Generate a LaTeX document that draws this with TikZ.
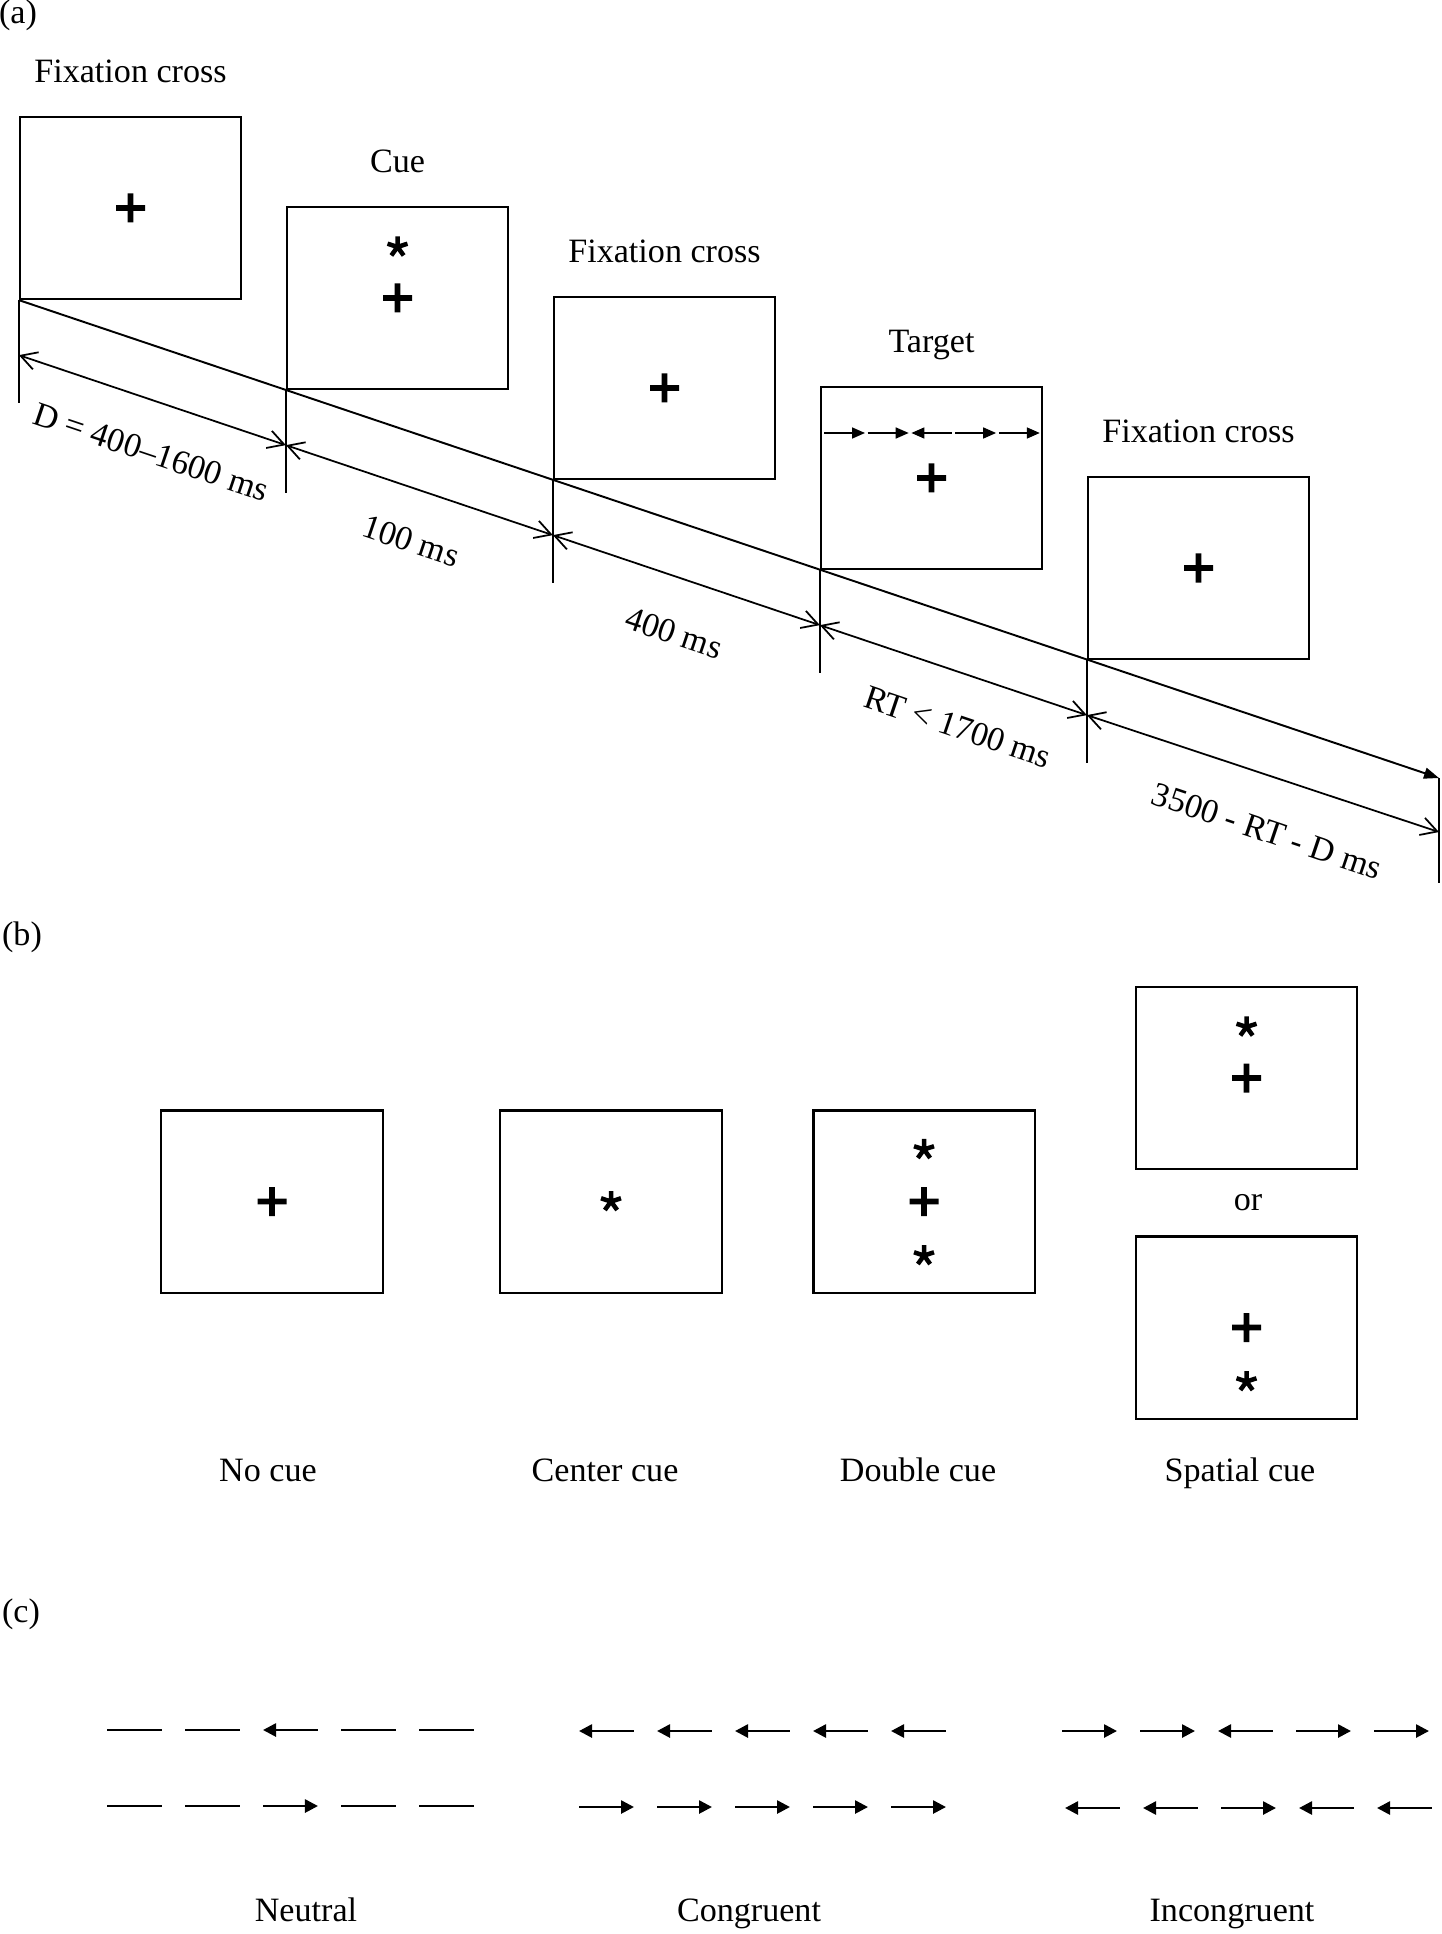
\documentclass[tikz,border=0pt]{standalone}
\usepackage{fontspec}
\setmainfont{Liberation Serif}
\usetikzlibrary{arrows.meta,positioning}

\tikzset{
  screen/.style={draw,line width=0.6pt,minimum width=2.21cm,minimum height=1.82cm,inner sep=0pt},
  lbl/.style={font=\fontsize{9.7}{11.6}\selectfont,inner sep=0pt},
  durlbl/.style={lbl,rotate=-18.63},
  tline/.style={line width=0.55pt},
  durline/.style={line width=0.5pt,{Straight Barb[length=0.16cm,width=0.18cm]}-{Straight Barb[length=0.16cm,width=0.18cm]}},
  tgtr/.style={line width=0.45pt,-{Triangle[length=0.13cm,width=0.11cm]}},
  tgtl/.style={line width=0.45pt,{Triangle[length=0.13cm,width=0.11cm]}-},
  flkn/.style={line width=0.75pt},
  flkr/.style={line width=0.75pt,-{Triangle[length=0.13cm,width=0.13cm]}},
  flkl/.style={line width=0.75pt,{Triangle[length=0.13cm,width=0.13cm]}-},
  fixplus/.pic={\fill (-14.5,-2.8) rectangle (14.5,2.8) (-2.8,-14.5) rectangle (2.8,14.5);},
  cuestar/.pic={\draw[line width=0.045cm] \foreach \a in {-90,-18,54,126,198} {(0,0) -- (\a:10.5)};},
}

\begin{document}
\begin{tikzpicture}[x=0.01cm,y=-0.01cm,line cap=butt]
  \useasboundingbox (0,0) rectangle (1441,1934);

  % (a) trial sequence
  \node[lbl] (pa) at (18,15) {(a)};
  \node[screen] (fixA) at (130.5,208) {};
  \node[screen] (cue) at (397.5,298) {};
  \node[screen] (fixB) at (664.5,388) {};
  \node[screen] (target) at (931.5,478) {};
  \node[screen] (fixC) at (1198.5,568) {};

  \node[lbl,anchor=base] (fixAlbl) at ([yshift=0.33cm]fixA.north) {Fixation cross};
  \node[lbl,anchor=base] (cuelbl) at ([yshift=0.33cm]cue.north) {Cue};
  \node[lbl,anchor=base] (fixBlbl) at ([yshift=0.33cm]fixB.north) {Fixation cross};
  \node[lbl,anchor=base] (targetlbl) at ([yshift=0.33cm]target.north) {Target};
  \node[lbl,anchor=base] (fixClbl) at ([yshift=0.33cm]fixC.north) {Fixation cross};

  \pic at (fixA) {fixplus};
  \pic at (cue) {fixplus};
  \pic at ([yshift=0.51cm]cue.center) {cuestar};
  \pic at (fixB) {fixplus};
  \pic at (target) {fixplus};
  \pic at (fixC) {fixplus};
  \foreach \s [count=\i from 0] in {tgtr,tgtr,tgtl,tgtr,tgtr}
    \draw[\s] (824+43.7*\i,433) -- ++(41,0);

  % time line
  \coordinate (tEnd) at (1439,778);
  \draw[tline,-{Triangle[length=0.15cm,width=0.11cm]}] (fixA.south west) -- (tEnd);
  \draw[tline] (fixA.south west) -- ++(0,103);
  \draw[tline] (cue.south west) -- ++(0,103);
  \draw[tline] (fixB.south west) -- ++(0,103);
  \draw[tline] (target.south west) -- ++(0,103);
  \draw[tline] (fixC.south west) -- ++(0,103);
  \draw[tline] (tEnd) -- ++(0,105);

  \coordinate (d0) at ([yshift=-0.55cm]fixA.south west);
  \coordinate (d1) at ([yshift=-0.55cm]cue.south west);
  \coordinate (d2) at ([yshift=-0.55cm]fixB.south west);
  \coordinate (d3) at ([yshift=-0.55cm]target.south west);
  \coordinate (d4) at ([yshift=-0.55cm]fixC.south west);
  \coordinate (d5) at ([yshift=-0.54cm]tEnd);
  \draw[durline] (d0) -- (d1);
  \draw[durline] (d1) -- (d2);
  \draw[durline] (d2) -- (d3);
  \draw[durline] (d3) -- (d4);
  \draw[durline] (d4) -- (d5);

  \node[durlbl] (dur0) at (151,452) {D = 400–1600 ms};
  \node[durlbl] (dur1) at (411,541) {100 ms};
  \node[durlbl] (dur2) at (674,633) {400 ms};
  \node[durlbl] (dur3) at (958,727) {RT < 1700 ms};
  \node[durlbl] (dur4) at (1267,831) {3500 - RT - D ms};

  % (b) cue conditions
  \node[lbl] (pb) at (22,937) {(b)};
  \node[screen] (nocue) at (272,1201.5) {};
  \node[screen] (ctrcue) at (611,1201.5) {};
  \node[screen] (dblcue) at (924,1201.5) {};
  \node[screen] (spcueup) at (1246.5,1078) {};
  \node[screen] (spcuedn) at (1246.5,1327.5) {};
  \node[lbl] (orlbl) at (1248,1203) {or};

  \pic at (nocue) {fixplus};
  \pic at (ctrcue) {cuestar};
  \pic at (dblcue) {fixplus};
  \pic at ([yshift=0.52cm]dblcue.center) {cuestar};
  \pic at ([yshift=-0.54cm]dblcue.center) {cuestar};
  \pic at (spcueup) {fixplus};
  \pic at ([yshift=0.51cm]spcueup.center) {cuestar};
  \pic at (spcuedn) {fixplus};
  \pic at ([yshift=-0.54cm]spcuedn.center) {cuestar};

  \node[lbl,anchor=base] (nocuelbl) at (268,1481) {No cue};
  \node[lbl,anchor=base] (ctrcuelbl) at (605,1481) {Center cue};
  \node[lbl,anchor=base] (dblcuelbl) at (918,1481) {Double cue};
  \node[lbl,anchor=base] (spcuelbl) at (1240,1481) {Spatial cue};

  % (c) flanker types
  \node[lbl] (pc) at (21,1614) {(c)};
  \foreach \s [count=\i from 0] in {flkn,flkn,flkl,flkn,flkn}
    \draw[\s] (107+78*\i,1730) -- ++(55,0);
  \foreach \s [count=\i from 0] in {flkn,flkn,flkr,flkn,flkn}
    \draw[\s] (107+78*\i,1806) -- ++(55,0);
  \foreach \s [count=\i from 0] in {flkl,flkl,flkl,flkl,flkl}
    \draw[\s] (579+78*\i,1731) -- ++(55,0);
  \foreach \s [count=\i from 0] in {flkr,flkr,flkr,flkr,flkr}
    \draw[\s] (579+78*\i,1807) -- ++(55,0);
  \foreach \s [count=\i from 0] in {flkr,flkr,flkl,flkr,flkr}
    \draw[\s] (1062+78*\i,1731) -- ++(55,0);
  \foreach \s [count=\i from 0] in {flkl,flkl,flkr,flkl,flkl}
    \draw[\s] (1065+78*\i,1808) -- ++(55,0);

  \node[lbl,anchor=base] (neutlbl) at (306,1921) {Neutral};
  \node[lbl,anchor=base] (conglbl) at (749,1921) {Congruent};
  \node[lbl,anchor=base] (inclbl) at (1232,1921) {Incongruent};
\end{tikzpicture}
\end{document}
